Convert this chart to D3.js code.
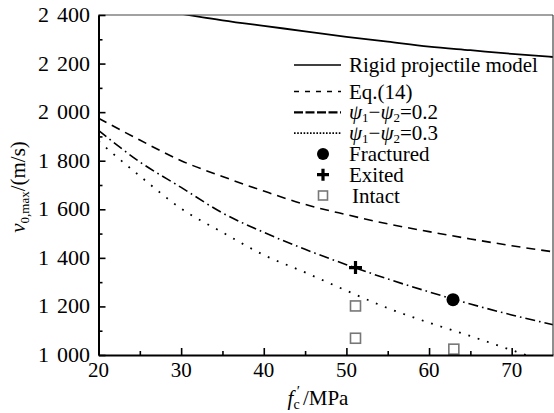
<!DOCTYPE html>
<html>
<head>
<meta charset="utf-8">
<script src="https://cdn.jsdelivr.net/npm/d3@7"></script>
<style>
  body { margin: 0; background: #fff; }
  text { font-family: "Liberation Serif", "Times New Roman", serif; fill: #000; }
</style>
</head>
<body>
<div id="chart"></div>
<script>
// Data
const fcGrid = [20, 25, 30, 35, 40, 45, 50, 55, 60, 65, 70, 75];
const rigidF = [30, 35, 40, 45, 50, 55, 60, 65, 70, 75];
const rigidV = [2405, 2378, 2355, 2333, 2310, 2290, 2270, 2255, 2240, 2227];
const eq14V = [1975, 1885, 1800, 1735, 1675, 1620, 1578, 1540, 1508, 1478, 1450, 1425];
const psi02V = [1925, 1795, 1690, 1585, 1505, 1435, 1372, 1313, 1260, 1210, 1165, 1125];
const psi03F = [20, 25, 30, 35, 40, 45, 50, 55, 60, 65, 70, 72];
const psi03V = [1880, 1737, 1603, 1505, 1412, 1340, 1265, 1193, 1133, 1078, 1020, 997];

const fracturedF = [62.9], fracturedV = [1228];
const exitedF = [51.1], exitedV = [1360];
const intactF = [51.1, 51.1, 63.0], intactV = [1202, 1069, 1024];

const xTicks = [20, 30, 40, 50, 60, 70];
const xMinor = [25, 35, 45, 55, 65];
const yTicks = [1000, 1200, 1400, 1600, 1800, 2000, 2200, 2400];
const yTickLabels = ["1 000", "1 200", "1 400", "1 600", "1 800", "2 000", "2 200", "2 400"];
const yMinor = [1100, 1300, 1500, 1700, 1900, 2100, 2300];

const legendLabels = ["Rigid projectile model", "Eq.(14)", "psi0.2", "psi0.3", "Fractured", "Exited", "Intact"];

const W = 554, H = 413;
const serif = "Liberation Serif";
const svg = d3.select("#chart").append("svg").attr("width", W).attr("height", H)
    .attr("font-family", serif);

const x = d3.scaleLinear().domain([20, 75]).range([98.5, 553]);
const y = d3.scaleLinear().domain([1000, 2400]).range([355, 15]);

svg.append("clipPath").attr("id", "plot")
    .append("rect").attr("x", 98.5).attr("y", 15).attr("width", 553 - 98.5).attr("height", 340);

const line = d3.line().x(d => x(d[0])).y(d => y(d[1])).curve(d3.curveMonotoneX);
const g = svg.append("g").attr("clip-path", "url(#plot)");

function drawCurve(fs, vs, dash, w) {
    g.append("path")
        .datum(fs.map((f, i) => [f, vs[i]]))
        .attr("d", line)
        .attr("fill", "none")
        .attr("stroke", "#000")
        .attr("stroke-width", w)
        .attr("stroke-dasharray", dash);
}
drawCurve(rigidF, rigidV, null, 1.8);
drawCurve(fcGrid, eq14V, "9,6", 1.6);
drawCurve(fcGrid, psi02V, "10,4,1.6,4", 1.6);
drawCurve(psi03F, psi03V, "1.8,8", 1.8);

// markers
function circle(sel, cx, cy, r) {
    sel.append("circle").attr("cx", cx).attr("cy", cy).attr("r", r).attr("fill", "#000");
}
function cross(sel, cx, cy, s) {
    sel.append("path")
        .attr("d", `M${cx - s},${cy}H${cx + s}M${cx},${cy - s}V${cy + s}`)
        .attr("stroke", "#000").attr("stroke-width", 3.2);
}
function square(sel, cx, cy, s) {
    sel.append("rect").attr("x", cx - s).attr("y", cy - s).attr("width", 2 * s).attr("height", 2 * s)
        .attr("fill", "#fff").attr("stroke", "#777").attr("stroke-width", 1.6);
}
intactF.forEach((f, i) => square(svg, x(f), y(intactV[i]), 5));
fracturedF.forEach((f, i) => circle(svg, x(f), y(fracturedV[i]), 6.5));
exitedF.forEach((f, i) => cross(svg, x(f), y(exitedV[i]), 6.5));

// frame
svg.append("line").attr("x1", 98.5).attr("x2", 553).attr("y1", 15).attr("y2", 15)
    .attr("stroke", "#444").attr("stroke-width", 1.2);
svg.append("line").attr("x1", 553).attr("x2", 553).attr("y1", 15).attr("y2", 355)
    .attr("stroke", "#444").attr("stroke-width", 1.2);

// axes (ticks only, labels drawn below)
svg.append("g").attr("transform", "translate(0,355)")
    .call(d3.axisBottom(x).tickValues(xTicks).tickSizeInner(-7).tickSizeOuter(0).tickFormat(""));
svg.append("g").attr("transform", "translate(0,355)")
    .call(d3.axisBottom(x).tickValues(xMinor).tickSize(-4).tickFormat(""))
    .select(".domain").remove();
svg.append("g").attr("transform", "translate(98.5,0)")
    .call(d3.axisLeft(y).tickValues(yTicks).tickSizeInner(-7).tickSizeOuter(0).tickFormat(""));
svg.append("g").attr("transform", "translate(98.5,0)")
    .call(d3.axisLeft(y).tickValues(yMinor).tickSize(-4).tickFormat(""))
    .select(".domain").remove();

svg.selectAll(".domain").attr("stroke", "#000").attr("stroke-width", 2);
svg.selectAll(".tick line").attr("stroke", "#000").attr("stroke-width", 1.6);

// tick labels
const labels = svg.append("g").attr("font-family", serif).attr("font-size", 21).attr("fill", "#000");
labels.selectAll(".xl").data(xTicks).join("text").attr("class", "xl")
    .attr("x", d => x(d)).attr("y", 377).attr("text-anchor", "middle").text(d => d);
// "2 400": thousands digit and the rest as two pieces, as in the figure
labels.selectAll(".yr").data(yTicks).join("text").attr("class", "yr")
    .attr("x", 90).attr("y", d => y(d) + 7).attr("text-anchor", "end").attr("font-size", 22)
    .text((d, i) => yTickLabels[i].split(" ")[1]);
labels.selectAll(".yk").data(yTicks).join("text").attr("class", "yk")
    .attr("x", 49).attr("y", d => y(d) + 7).attr("text-anchor", "end").attr("font-size", 22)
    .text((d, i) => yTickLabels[i].split(" ")[0]);

// axis titles
const xt = svg.append("text").attr("x", 318).attr("y", 405).attr("text-anchor", "middle").attr("font-size", 21);
xt.append("tspan").attr("font-style", "italic").text("f");
xt.append("tspan").attr("font-size", 14).attr("dy", 4).text("c");
xt.append("tspan").attr("font-size", 15).attr("dy", -13).attr("dx", -3).text("′");
xt.append("tspan").attr("dy", 9).attr("dx", 3).text("/MPa");

const yt = svg.append("text").attr("transform", "translate(25,187) rotate(-90)")
    .attr("text-anchor", "middle").attr("font-size", 21);
yt.append("tspan").attr("font-style", "italic").text("v");
yt.append("tspan").attr("font-size", 13).attr("dy", 4).text("0,max");
yt.append("tspan").attr("dy", -4).text("/(m/s)");

// legend
const leg = svg.append("g");
const legX0 = 294, legX1 = 341, legTx = 349;
const rowY = i => i === 0 ? 65 : 91.5 + (i - 1) * 20.8;
const legDash = [null, "5,6", "9,2.5", "1.6,1.6"];
legendLabels.forEach((lab, i) => {
    const cy = rowY(i);
    if (i < 4) {
        leg.append("line").attr("x1", legX0).attr("x2", legX1).attr("y1", cy).attr("y2", cy)
            .attr("stroke", "#000").attr("stroke-width", i === 2 ? 2.2 : 1.6)
            .attr("stroke-dasharray", legDash[i]);
    } else if (i === 4) circle(leg, 323, cy, 6);
    else if (i === 5) cross(leg, 323, cy, 6);
    else square(leg, 323, cy, 4.5);
    const t = leg.append("text").attr("x", i === 6 ? legTx + 3 : legTx).attr("y", cy + 7)
        .attr("font-size", 21);
    if (lab.startsWith("psi")) {
        t.append("tspan").attr("font-style", "italic").text("ψ");
        t.append("tspan").attr("font-size", 13).attr("dy", 3).text("1");
        t.append("tspan").attr("dy", -3).text("−");
        t.append("tspan").attr("font-style", "italic").text("ψ");
        t.append("tspan").attr("font-size", 13).attr("dy", 3).text("2");
        t.append("tspan").attr("dy", -3).text("=" + lab.slice(3));
    } else {
        t.text(lab);
    }
});
</script>
</body>
</html>
